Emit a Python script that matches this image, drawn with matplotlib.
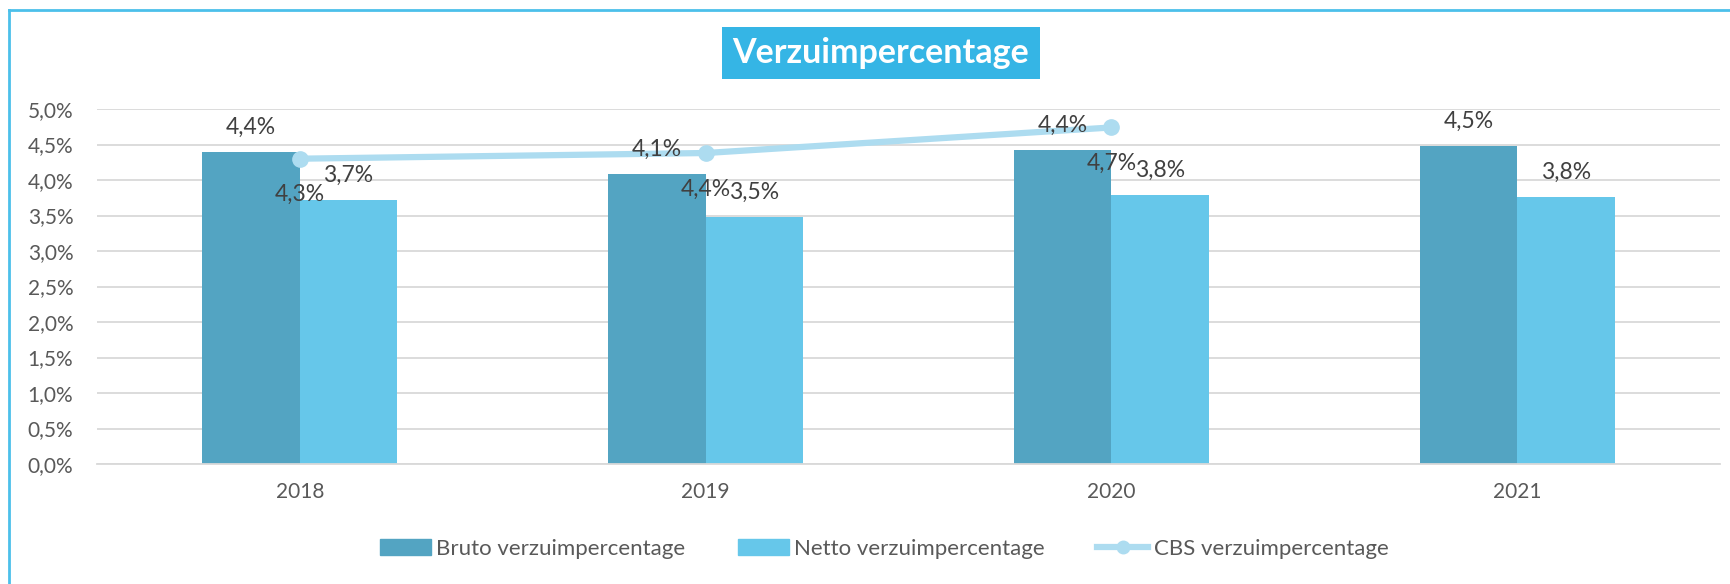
import matplotlib.pyplot as plt
import matplotlib.lines as mlines
import matplotlib.patches as mpatches
import numpy as np

plt.rcParams['font.family'] = ['Lato', 'DejaVu Sans']

# Data
jaren = ['2018', '2019', '2020', '2021']
bruto = [4.39, 4.08, 4.42, 4.48]
netto = [3.72, 3.48, 3.79, 3.76]
cbs = [4.30, 4.38, 4.74]
y_ticks = [0.0, 0.5, 1.0, 1.5, 2.0, 2.5, 3.0, 3.5, 4.0, 4.5, 5.0]

kleur_bruto = '#53A4C2'
kleur_netto = '#66C7EA'
kleur_cbs = '#ADDCF0'
kleur_tekst = '#595959'
kleur_label = '#404040'

def pct(v):
    return f"{v:.1f}%".replace('.', ',')

fig = plt.figure(figsize=(17.3, 5.84), dpi=100)
ax = fig.add_axes([97/1730, 1-464/584, (1720-97)/1730, (464-109)/584])

x = np.arange(len(jaren))
w = 0.24
ax.bar(x - w/2, bruto, w, color=kleur_bruto, zorder=2)
ax.bar(x + w/2, netto, w, color=kleur_netto, zorder=2)
ax.plot(x[:len(cbs)], cbs, color=kleur_cbs, lw=4.5, marker='o', ms=11, zorder=3)

# data labels
for i in range(len(jaren)):
    ax.annotate(pct(bruto[i]), (x[i] - w/2, bruto[i]), xytext=(0, 18), textcoords='offset points',
                ha='center', va='center', fontsize=16.5, color=kleur_label, zorder=4)
    ax.annotate(pct(netto[i]), (x[i] + w/2, netto[i]), xytext=(0, 18), textcoords='offset points',
                ha='center', va='center', fontsize=16.5, color=kleur_label, zorder=4)
for i in range(len(cbs)):
    ax.annotate(pct(cbs[i]), (x[i], cbs[i]), xytext=(0, -26), textcoords='offset points',
                ha='center', va='center', fontsize=16.5, color=kleur_label, zorder=4)

ax.set_xlim(-0.5, len(jaren) - 0.5)
ax.set_ylim(0, 5.0)
ax.set_yticks(y_ticks)
ax.set_yticklabels([pct(t) for t in y_ticks])
ax.set_xticks(x)
ax.set_xticklabels(jaren)
ax.tick_params(axis='both', length=0, labelsize=15, labelcolor=kleur_tekst)
ax.tick_params(axis='x', pad=13)
ax.tick_params(axis='y', pad=17)
ax.grid(axis='y', color='#D9D9D9', lw=1.3, zorder=0)
for s in ['top', 'right', 'left']:
    ax.spines[s].set_visible(False)
ax.spines['bottom'].set_color('#D9D9D9')
ax.spines['bottom'].set_linewidth(1.3)

# title
fig.text(881/1730, 1-53/584, 'Verzuimpercentage', ha='center', va='center', fontsize=24.5,
         fontweight='bold', color='white',
         bbox=dict(boxstyle='square,pad=0.3', facecolor='#35B5E5', edgecolor='none'))

# legend
handles = [mpatches.Patch(color=kleur_bruto, label='Bruto verzuimpercentage'),
           mpatches.Patch(color=kleur_netto, label='Netto verzuimpercentage'),
           mlines.Line2D([], [], color=kleur_cbs, lw=4.5, marker='o', ms=9, label='CBS verzuimpercentage')]
leg = fig.legend(handles=handles, loc='center', bbox_to_anchor=(884/1730, 1-549/584), ncol=3,
                 frameon=False, fontsize=16, handlelength=2.3, handleheight=0.75,
                 columnspacing=2.35, handletextpad=0.25)
for t in leg.get_texts():
    t.set_color(kleur_tekst)

# frame
fig.add_artist(mlines.Line2D([9/1730, 9/1730], [0, 1-10/584], color='#4CC0EA', lw=2))
fig.add_artist(mlines.Line2D([9/1730, 1], [1-10/584, 1-10/584], color='#4CC0EA', lw=2))

fig.savefig('out.png', dpi=100)
